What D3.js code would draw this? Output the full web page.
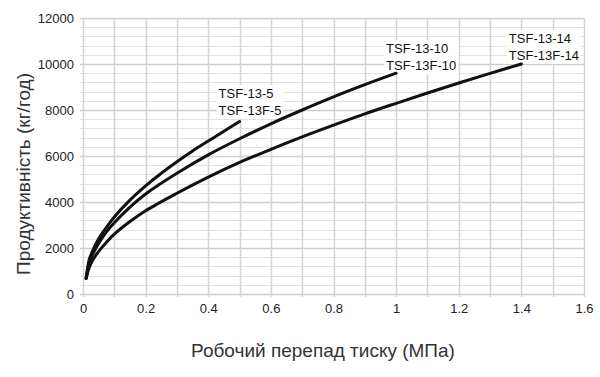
<!DOCTYPE html>
<html>
<head>
<meta charset="utf-8">
<script src="https://cdn.jsdelivr.net/npm/d3@7"></script>
<style>
	body { margin: 0; background: #fff; }
	text { font-family: "Liberation Sans", Arial, sans-serif; }
</style>
</head>
<body>
<div id="chart_holder"></div>
<script>
//pressure drop (MPa) vs capacity (kg/h), three steam traps

var xTicks = [0, 0.2, 0.4, 0.6, 0.8, 1, 1.2, 1.4, 1.6];
var yTicks = [0, 2000, 4000, 6000, 8000, 10000, 12000];

var pressure5 = [0.01, 0.02, 0.03, 0.05, 0.075, 0.1, 0.15, 0.2, 0.25, 0.3, 0.35, 0.4, 0.45, 0.5];
var capacity5 = [680, 1500, 1850, 2400, 2900, 3350, 4080, 4700, 5250, 5750, 6220, 6650, 7080, 7500];

var pressure10 = [0.01, 0.02, 0.03, 0.05, 0.075, 0.1, 0.15, 0.2, 0.3, 0.4, 0.5, 0.6, 0.7, 0.8, 0.9, 1.0];
var capacity10 = [680, 1350, 1700, 2200, 2700, 3100, 3780, 4350, 5250, 6050, 6750, 7400, 8000, 8570, 9100, 9600];

var pressure14 = [0.01, 0.02, 0.03, 0.05, 0.075, 0.1, 0.15, 0.2, 0.3, 0.4, 0.5, 0.6, 0.7, 0.8, 0.9, 1.0, 1.1, 1.2, 1.3, 1.4];
var capacity14 = [680, 1150, 1450, 1850, 2250, 2600, 3150, 3620, 4380, 5080, 5720, 6290, 6830, 7340, 7830, 8290, 8740, 9175, 9595, 10000];

var seriesNames = [["TSF-13-5", "TSF-13F-5"], ["TSF-13-10", "TSF-13F-10"], ["TSF-13-14", "TSF-13F-14"]];

var width = 600, height = 377;
var margin = {left: 83, right: 15, top: 18, bottom: 83};

var svg = d3.select("#chart_holder").append("svg")
	.attr("width", width)
	.attr("height", height);

var x = d3.scaleLinear().domain([0, 1.6]).range([margin.left, width - margin.right - 1]);
var y = d3.scaleLinear().domain([0, 12000]).range([height - margin.bottom, margin.top]);

//grid first. minor every 400 across, every 0.1 down
var grid = svg.append("g");
grid.selectAll(".hminor")
	.data(d3.range(0, 12001, 400))
	.enter().append("line")
		.attr("x1", x(0) - 3)
		.attr("x2", x(1.6))
		.attr("y1", function(d) { return Math.round(y(d)) + 0.5; })
		.attr("y2", function(d) { return Math.round(y(d)) + 0.5; })
		.style("stroke", function(d) { return d % 2000 == 0 ? "#cfcfcf" : "#e2e2e2"; })
		.style("stroke-width", function(d) { return d % 2000 == 0 ? 1.5 : 1; });

grid.selectAll(".vline")
	.data(d3.range(0, 17))
	.enter().append("line")
		.attr("x1", function(d) { return Math.round(x(d / 10)) + 0.5; })
		.attr("x2", function(d) { return Math.round(x(d / 10)) + 0.5; })
		.attr("y1", y(12000))
		.attr("y2", y(0) + 3)
		.style("stroke", "#d4d4d4")
		.style("stroke-width", 1.5);

//axes, but only for the labels
var yAxis = svg.append("g")
	.attr("transform", "translate(" + (x(0) - 6) + ",0)")
	.call(d3.axisLeft(y).tickValues(yTicks).tickSize(0).tickFormat(d3.format("d")));
var xAxis = svg.append("g")
	.attr("transform", "translate(0," + (y(0) + 7) + ")")
	.call(d3.axisBottom(x).tickValues(xTicks).tickSize(0).tickFormat(function(d) { return String(d); }));

[yAxis, xAxis].forEach(function(a) {
	a.select(".domain").remove();
	a.selectAll("text")
		.style("font-size", "13px")
		.style("fill", "#222");
});
yAxis.selectAll("text").attr("dy", "0.36em");

//labels go in before the curves so the white box sits under the line ends
var labelAnchor = [[0.433, 8520], [0.968, 10465], [1.36, 10925]];
labelAnchor.forEach(function(p, i) {
	var g = svg.append("g")
		.attr("transform", "translate(" + x(p[0]) + "," + y(p[1]) + ")");
	var bg = g.append("rect").style("fill", "#fff");
	var t = g.append("text")
		.style("font-size", "13px")
		.style("fill", "#111");
	seriesNames[i].forEach(function(s, j) {
		t.append("tspan").attr("x", 0).attr("y", j * 17).text(s);
	});
	var bb = t.node().getBBox();
	bg.attr("x", bb.x - 2).attr("y", bb.y - 1).attr("width", bb.width + 4).attr("height", bb.height + 2);
});

//the curves
var line = d3.line()
	.x(function(d) { return x(d[0]); })
	.y(function(d) { return y(d[1]); })
	.curve(d3.curveCatmullRom.alpha(0.5));

var curves = [d3.zip(pressure5, capacity5), d3.zip(pressure10, capacity10), d3.zip(pressure14, capacity14)];

svg.selectAll(".curve")
	.data(curves)
	.enter().append("path")
		.attr("class", "curve")
		.attr("d", line)
		.style("fill", "none")
		.style("stroke", "#111")
		.style("stroke-width", 3)
		.style("stroke-linecap", "round");

//titles
svg.append("text")
	.attr("x", 323)
	.attr("y", 357)
	.attr("text-anchor", "middle")
	.style("font-size", "19px")
	.style("fill", "#333")
	.text("Робочий перепад тиску (МПа)");

svg.append("text")
	.attr("transform", "translate(30,174) rotate(-90)")
	.attr("text-anchor", "middle")
	.style("font-size", "19px")
	.style("fill", "#333")
	.text("Продуктивність (кг/год)");
</script>
</body>
</html>
